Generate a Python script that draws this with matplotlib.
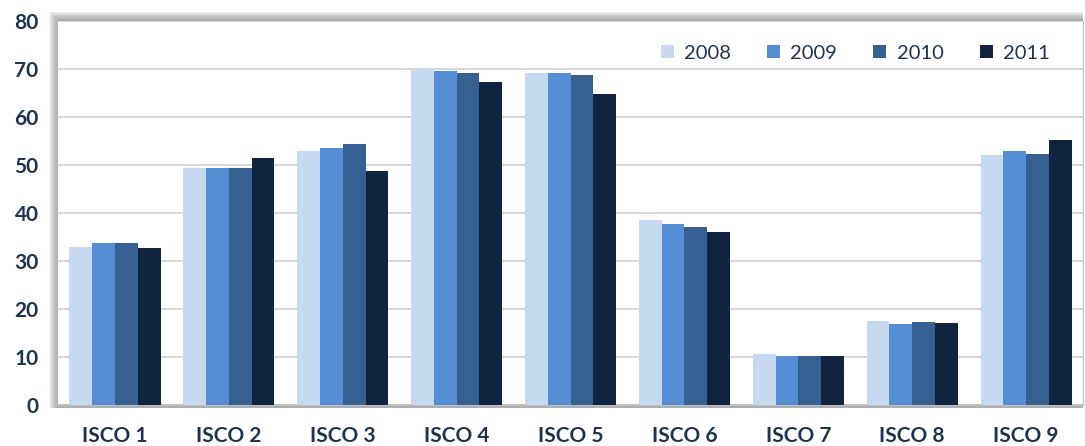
import numpy as np
import matplotlib.pyplot as plt
from matplotlib.patches import Rectangle

# data
categories = ['ISCO 1', 'ISCO 2', 'ISCO 3', 'ISCO 4', 'ISCO 5',
              'ISCO 6', 'ISCO 7', 'ISCO 8', 'ISCO 9']
years = ['2008', '2009', '2010', '2011']
v2008 = [33.0, 49.3, 53.0, 69.9, 69.1, 38.6, 10.6, 17.5, 52.0]
v2009 = [33.8, 49.3, 53.6, 69.6, 69.1, 37.8, 10.3, 16.8, 53.0]
v2010 = [33.8, 49.3, 54.4, 69.1, 68.8, 37.0, 10.3, 17.2, 52.2]
v2011 = [32.8, 51.4, 48.8, 67.2, 64.8, 36.0, 10.3, 17.0, 55.1]
y_ticks = [0, 10, 20, 30, 40, 50, 60, 70, 80]

colores = ['#C6D9F1', '#558ED5', '#376092', '#10243F']
texto = '#1F3350'

plt.rcParams['font.family'] = ['Lato', 'DejaVu Sans']

fig = plt.figure(figsize=(10.85, 4.46), dpi=100)
ax = fig.add_axes([0.0535, 0.092, 0.9447, 0.861])
ax.set_zorder(2)

# sombra del area de grafico (izquierda y arriba, difuminada)
for i in range(6):
    off = (6 - i) * 1.5
    fig.patches.append(Rectangle((0.0535 - off / 1085, 0.092 - 3 / 446),
                                 0.9447 + off / 1085, 0.861 + off / 446 + 3 / 446,
                                 transform=fig.transFigure, facecolor='#6F6F6F',
                                 edgecolor='none', alpha=0.12, zorder=-1))

x = np.arange(len(categories))
ancho = 0.2
series = [v2008, v2009, v2010, v2011]
for i, (serie, year) in enumerate(zip(series, years)):
    ax.bar(x + (i - 1.5) * ancho, serie, width=ancho, color=colores[i],
           label=year, zorder=3, edgecolor='none')

ax.set_facecolor('white')
ax.set_xlim(-0.5, len(categories) - 0.5)
ax.set_ylim(0, 80)
ax.set_yticks(y_ticks)
ax.set_xticks(x)
ax.set_xticklabels(categories)
ax.grid(axis='y', color='#D0D0D0', linewidth=1.2, zorder=0)
ax.set_axisbelow(True)

for s in ['top', 'left']:
    ax.spines[s].set_visible(False)
ax.spines['right'].set_color('#BFBFBF')
ax.spines['bottom'].set_color('#BFBFBF')
ax.spines['bottom'].set_linewidth(1.5)

ax.tick_params(axis='y', length=0, pad=14, labelsize=15, labelcolor=texto)
ax.tick_params(axis='x', length=0, pad=15, labelsize=15, labelcolor=texto)
for lbl in ax.get_yticklabels() + ax.get_xticklabels():
    lbl.set_fontweight('bold')

leg = ax.legend(loc='upper right', ncol=4, frameon=False, fontsize=14.5,
                bbox_to_anchor=(0.985, 0.985), handlelength=0.65, handleheight=0.65,
                handletextpad=0.5, columnspacing=1.8)
for t in leg.get_texts():
    t.set_color(texto)

fig.savefig('out.png', dpi=100)
